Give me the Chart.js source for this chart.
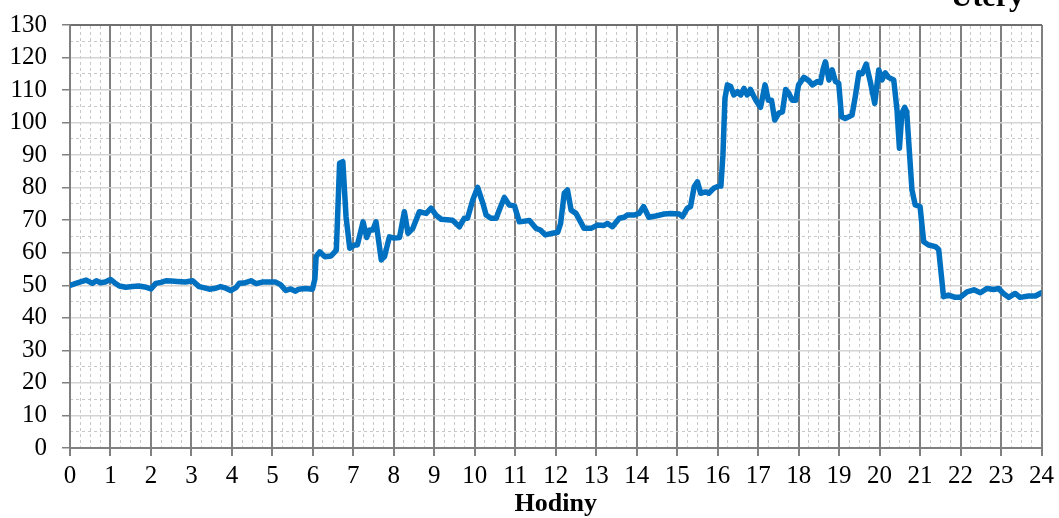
<!DOCTYPE html>
<html lang="cs">
<head>
<meta charset="utf-8">
<title>Úterý</title>
<script src="https://cdn.jsdelivr.net/npm/chart.js@4.4.0/dist/chart.umd.min.js"></script>
<style>
  html, body { margin: 0; padding: 0; background: #fff; }
  canvas { display: block; }
</style>
</head>
<body>
<canvas id="chart" width="1059" height="518"></canvas>
<script>
// hodiny dne a odečtené hodnoty
const hodiny = [
  0.0, 0.2, 0.4, 0.55, 0.65, 0.75, 0.87, 1.0, 1.1, 1.22, 1.38, 1.54, 1.7, 1.85, 2.0,
  2.12, 2.25, 2.37, 2.5, 2.65, 2.85, 3.03, 3.19, 3.3, 3.44, 3.6, 3.72, 3.85, 3.97,
  4.1, 4.18, 4.3, 4.47, 4.6, 4.75, 4.9, 5.08, 5.2, 5.33, 5.45, 5.57, 5.65, 5.82, 5.99,
  6.05, 6.08, 6.17, 6.29, 6.45, 6.58, 6.66, 6.74, 6.82, 6.91, 7.03, 7.1, 7.24, 7.33,
  7.4, 7.48, 7.56, 7.69, 7.77, 7.89, 8.01, 8.14, 8.26, 8.35, 8.47, 8.63, 8.8, 8.92,
  9.04, 9.17, 9.45, 9.62, 9.74, 9.82, 9.95, 10.07, 10.2, 10.28, 10.4, 10.53, 10.6,
  10.73, 10.85, 10.98, 11.1, 11.35, 11.51, 11.62, 11.74, 11.92, 12.05, 12.12, 12.21,
  12.29, 12.38, 12.5, 12.7, 12.87, 13.03, 13.19, 13.28, 13.4, 13.57, 13.69, 13.77,
  13.93, 14.06, 14.17, 14.3, 14.43, 14.68, 14.84, 15.05, 15.13, 15.25, 15.33, 15.42,
  15.5, 15.58, 15.7, 15.78, 15.9, 16.03, 16.08, 16.13, 16.18, 16.24, 16.32, 16.4,
  16.49, 16.57, 16.65, 16.73, 16.81, 16.94, 17.06, 17.17, 17.25, 17.33, 17.41, 17.51,
  17.6, 17.68, 17.76, 17.84, 17.93, 18.0, 18.13, 18.25, 18.34, 18.46, 18.54, 18.6,
  18.66, 18.75, 18.83, 18.91, 18.99, 19.06, 19.15, 19.24, 19.32, 19.4, 19.49, 19.57,
  19.67, 19.77, 19.88, 19.98, 20.06, 20.14, 20.22, 20.35, 20.43, 20.49, 20.55, 20.62,
  20.67, 20.8, 20.88, 21.0, 21.09, 21.21, 21.38, 21.46, 21.58, 21.7, 21.87, 21.99,
  22.16, 22.33, 22.49, 22.65, 22.82, 22.94, 23.06, 23.19, 23.35, 23.47, 23.68, 23.85, 24.0
];
const hodnoty = [
  50, 50.8, 51.6, 50.6, 51.4, 50.8, 51, 51.8, 50.8, 49.8, 49.4, 49.6, 49.8, 49.5, 48.9,
  50.6, 50.9, 51.4, 51.3, 51.2, 51.0, 51.4, 49.6, 49.3, 48.8, 49.1, 49.6, 49.1, 48.4,
  49.3, 50.6, 50.7, 51.4, 50.5, 51, 51, 51, 50.2, 48.4, 48.9, 48.2, 48.8, 49, 48.8,
  52, 58.8, 60.3, 58.8, 59, 60.8, 87.5, 88, 71, 61.4, 62.4, 62.4, 69.5, 64.7,
  67, 67, 69.5, 57.8, 58.8, 64.9, 64.5, 64.7, 72.6, 66, 67.5, 72.6, 72.1, 73.7,
  71.6, 70.3, 70, 68, 70.6, 70.6, 76.2, 80.1, 75.2, 71.6, 70.6, 70.6, 73,
  77, 74.7, 74.4, 69.5, 69.9, 67.5, 67, 65.5, 66, 66.3, 69, 78.3,
  79.3, 73.1, 72.1, 67.5, 67.5, 68.5, 68.4, 69, 68, 70.6, 70.9, 71.6,
  71.6, 72.1, 74.2, 70.9, 71.2, 71.9, 72.1, 71.9, 71.1, 73.7, 74.2, 80.3,
  81.8, 78.3, 78.7, 78.3, 79.8, 80.5, 80.5, 90, 107.5, 111.6, 111.1, 108.5,
  109.5, 108.5, 110.5, 108.5, 110.2, 106.9, 104.7, 111.6, 106.9, 106.9, 100.8, 102.9,
  103.3, 110.2, 109, 106.9, 106.9, 111.6, 113.9, 112.9, 111.6, 112.6, 112.3, 116.2,
  118.7, 113.1, 116.2, 112.6, 112.1, 101.8, 101.3, 101.8, 102.3, 108, 115.3, 115,
  118, 112.6, 105.9, 116.2, 113.1, 115.3, 113.9, 113.1, 103.9, 92.1, 102.8, 104.7,
  103.3, 79.3, 74.7, 74.2, 63.4, 62.4, 61.9, 61, 46.5, 47, 46.3, 46.3,
  48, 48.6, 47.7, 49, 48.7, 49, 47.5, 46.3, 47.5, 46.3, 46.7, 46.7, 47.7
];
const nazevDne = "Úterý";
const popisOsyX = "Hodiny";

const pismo = '"Liberation Serif", "Times New Roman", serif';

const bilePozadi = {
  id: 'bilePozadi',
  beforeDraw(chart) {
    const ctx = chart.ctx;
    ctx.save();
    ctx.fillStyle = '#ffffff';
    ctx.fillRect(0, 0, chart.width, chart.height);
    ctx.restore();
  }
};

const nadpisDne = {
  id: 'nadpisDne',
  afterDraw(chart) {
    const ctx = chart.ctx;
    ctx.save();
    ctx.font = 'bold 30px ' + pismo;
    ctx.fillStyle = '#000';
    ctx.textAlign = 'right';
    ctx.textBaseline = 'alphabetic';
    ctx.fillText(nazevDne, 1024, 6);
    ctx.restore();
  }
};

const body = hodiny.map((h, i) => ({ x: h, y: hodnoty[i] }));

new Chart(document.getElementById('chart'), {
  type: 'line',
  data: {
    datasets: [{
      data: body,
      borderColor: '#0070C0',
      borderWidth: 5.5,
      pointRadius: 0,
      tension: 0,
      borderJoinStyle: 'round',
      borderCapStyle: 'round',
      xAxisID: 'x',
      yAxisID: 'y'
    }]
  },
  options: {
    responsive: false,
    animation: false,
    layout: { padding: { left: 10, right: 14, top: 25, bottom: 0 } },
    plugins: {
      legend: { display: false },
      tooltip: { enabled: false }
    },
    scales: {
      x: {
        type: 'linear',
        position: 'bottom',
        min: 0,
        max: 24,
        afterFit: (s) => { s.height = 70; },
        ticks: {
          stepSize: 1,
          color: '#000',
          padding: 5,
          maxRotation: 0,
          autoSkip: false,
          font: { family: pismo, size: 25 }
        },
        grid: {
          color: '#808080',
          lineWidth: 2,
          tickLength: 8,
          tickColor: '#808080'
        },
        border: { color: '#808080', width: 2 },
        title: {
          display: true,
          text: popisOsyX,
          color: '#000',
          padding: { top: 0, bottom: 1 },
          font: { family: pismo, size: 26, weight: 'bold', lineHeight: 1 }
        }
      },
      xVedlejsi: {
        type: 'linear',
        position: 'top',
        min: 0,
        max: 24,
        z: -1,
        afterFit: (s) => { s.height = 0; },
        ticks: { stepSize: 0.25, display: false, autoSkip: false },
        grid: {
          drawTicks: false,
          lineWidth: 1,
          color: (c) => Number.isInteger(c.tick.value) ? 'rgba(0,0,0,0)' : '#c8c8c8'
        },
        border: { display: true, color: '#6f6f6f', width: 2, dash: [3, 3] }
      },
      y: {
        type: 'linear',
        position: 'left',
        min: 0,
        max: 130,
        afterFit: (s) => { s.width = 60; s.paddingTop = 0; s.paddingBottom = 0; },
        ticks: {
          stepSize: 10,
          autoSkip: false,
          color: '#000',
          padding: 15,
          font: { family: pismo, size: 25 }
        },
        grid: {
          color: (c) => c.tick.value === 0 ? 'rgba(0,0,0,0)' : '#d4d4d4',
          lineWidth: 1.5,
          tickLength: 8,
          tickColor: '#808080'
        },
        border: { color: '#808080', width: 2 }
      },
      yVedlejsi: {
        type: 'linear',
        position: 'right',
        min: 0,
        max: 130,
        z: -1,
        afterFit: (s) => { s.width = 0; s.paddingTop = 0; s.paddingBottom = 0; },
        ticks: { stepSize: 5, display: false, autoSkip: false },
        grid: {
          drawTicks: false,
          lineWidth: 1,
          color: (c) => c.tick.value % 10 === 0 ? 'rgba(0,0,0,0)' : '#c8c8c8'
        },
        border: { display: false, dash: [3, 3] }
      }
    }
  },
  plugins: [bilePozadi, nadpisDne]
});
</script>
</body>
</html>
